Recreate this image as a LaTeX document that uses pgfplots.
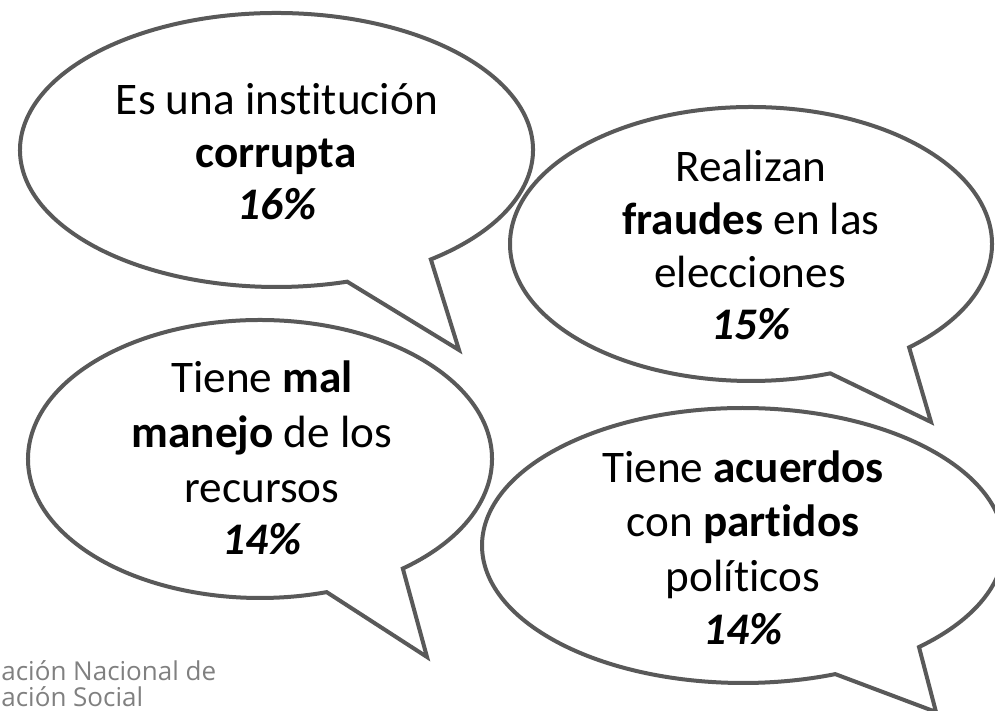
\documentclass[border=0pt]{standalone}
\usepackage{pgfplots}
\pgfplotsset{compat=1.18}
\usepackage{pgfplotstable}
\usepackage{fontspec}
\setmainfont{Carlito}[Ligatures={NoCommon}]
\newfontfamily\footfont{Open Sans}
\definecolor{edge}{HTML}{595959}
\definecolor{foot}{HTML}{808080}

\pgfplotstableread{
x y pct
277 491 16
751 371 15
262 156 14
743 66 14
}\pcttable

\begin{document}
\begin{tikzpicture}
\useasboundingbox (0,0) rectangle (497.5pt,355.5pt);
\clip (0,0) rectangle (497.5pt,355.5pt);
\begin{axis}[
  at={(0,0)}, anchor=south west,
  scale only axis, width=497.5pt, height=355.5pt,
  xmin=0, xmax=995, ymin=0, ymax=711,
  hide axis, clip=false,
  /pgf/number format/assume math mode=true,
]
% bubble 1
\draw[edge, line width=2pt, fill=white] (axis cs:276.5,561) ++(-53:{128.25pt} and {68.5pt})
  arc[start angle=-53, end angle=286, x radius=128.25pt, y radius=68.5pt] -- (axis cs:459,361) -- cycle;
% bubble 2
\draw[edge, line width=2pt, fill=white] (axis cs:751,467) ++(-49:{120.5pt} and {68.5pt})
  arc[start angle=-49, end angle=289.2, x radius=120.5pt, y radius=68.5pt] -- (axis cs:931,289) -- cycle;
% bubble 3
\draw[edge, line width=2pt, fill=white] (axis cs:260,252) ++(-52:{116pt} and {69.5pt})
  arc[start angle=-52, end angle=286.7, x radius=116pt, y radius=69.5pt] -- (axis cs:427,54) -- cycle;
% bubble 4
\draw[edge, line width=2pt, fill=white] (axis cs:743,165.5) ++(-47.6:{130.5pt} and {68.75pt})
  arc[start angle=-47.6, end angle=290.7, x radius=130.5pt, y radius=68.75pt] -- (axis cs:936,-1) -- cycle;

\tikzset{lbl/.style={anchor=base, inner sep=0pt, font=\fontsize{22.6}{27}\selectfont}}
\node[lbl] at (axis cs:277,596) {Es una institución};
\node[lbl] at (axis cs:276,543) {\textbf{corrupta}};
\node[lbl] at (axis cs:751,529) {Realizan};
\node[lbl] at (axis cs:751,476) {\textbf{fraudes} en las};
\node[lbl] at (axis cs:750,423) {elecciones};
\node[lbl] at (axis cs:262,318) {Tiene \textbf{mal}};
\node[lbl] at (axis cs:262,263) {\textbf{manejo} de los};
\node[lbl] at (axis cs:262,208) {recursos};
\node[lbl] at (axis cs:743,228) {Tiene \textbf{acuerdos}};
\node[lbl] at (axis cs:743,174) {con \textbf{partidos}};
\node[lbl] at (axis cs:743,119) {políticos};

\addplot[draw=none, mark=none, point meta=explicit,
  nodes near coords={\bfseries\itshape\pgfmathprintnumber{\pgfplotspointmeta}\%},
  every node near coord/.append style={anchor=base, inner sep=0pt, font=\fontsize{22.6}{27}\selectfont}]
  table[x=x, y=y, meta=pct] {\pcttable};

\node[anchor=base west, inner sep=0pt, text=foot, font=\footfont\fontsize{13}{15}\selectfont] at (axis cs:1,30) {ación Nacional de};
\node[anchor=base west, inner sep=0pt, text=foot, font=\footfont\fontsize{13}{15}\selectfont] at (axis cs:1,4) {ación Social};
\end{axis}
\end{tikzpicture}
\end{document}
